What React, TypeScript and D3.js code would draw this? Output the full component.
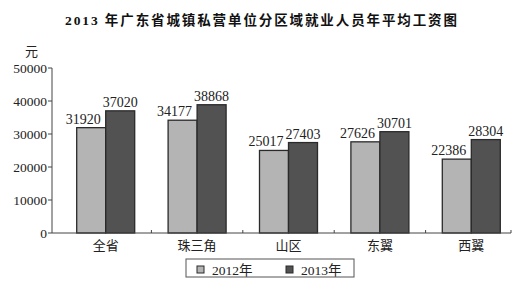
import React from "react";
import * as d3 from "d3";

const categories = ["全省", "珠三角", "山区", "东翼", "西翼"];
const values2012 = [31920, 34177, 25017, 27626, 22386];
const values2013 = [37020, 38868, 27403, 30701, 28304];
const yTicks = [0, 10000, 20000, 30000, 40000, 50000];
const seriesNames = ["2012年", "2013年"];
const title = "2013 年广东省城镇私营单位分区域就业人员年平均工资图";

const W = 524;
const H = 284;
const serif = "'Liberation Serif', 'Times New Roman', 'Noto Sans CJK SC', serif";
const cjk = "'Noto Sans CJK SC', 'Liberation Serif', serif";
const colors = ["#b4b4b4", "#525252"];

export default function App() {
  const axisX = 52;
  const axisEnd = 511;
  const y = d3.scaleLinear().domain([0, 50000]).range([233, 68]);
  const x = d3.scaleBand<string>().domain(categories).range([60, 517]).padding(0);
  const barW = 29;
  const labelDx = [-8, 0];

  return (
    <div style={{ position: "absolute", left: 0, top: 0 }}>
      <svg width={W} height={H} style={{ display: "block", background: "#fff" }}>
        <text
          x={65}
          y={25}
          textLength={392}
          lengthAdjust="spacing"
          fontFamily={serif}
          fontWeight="bold"
          fontSize={13.5}
          fill="#111"
        >
          {title}
        </text>
        <text x={25} y={56} fontFamily={cjk} fontSize={13} fill="#222">元</text>

        {/* y axis */}
        <line x1={axisX} x2={axisX} y1={y(50000)} y2={y(0)} stroke="#444" strokeWidth={1} />
        {yTicks.map((t) => (
          <g key={t}>
            <line x1={axisX - 4} x2={axisX} y1={y(t)} y2={y(t)} stroke="#444" strokeWidth={1} />
            <text
              x={47}
              y={y(t) + 4.5}
              textAnchor="end"
              fontFamily={serif}
              fontSize={13.5}
              fill="#222"
            >
              {t}
            </text>
          </g>
        ))}

        {/* bars */}
        {categories.map((c, i) => {
          const cx = (x(c) as number) + x.bandwidth() / 2;
          const vals = [values2012[i], values2013[i]];
          return (
            <g key={c}>
              {vals.map((v, k) => {
                const bx = k === 0 ? cx - barW : cx;
                return (
                  <g key={k}>
                    <rect
                      x={bx}
                      y={y(v)}
                      width={barW}
                      height={y(0) - y(v)}
                      fill={colors[k]}
                      stroke="#2a2a2a"
                      strokeWidth={1.3}
                    />
                    <text
                      x={bx + barW / 2 + labelDx[k]}
                      y={y(v) - 4}
                      textAnchor="middle"
                      fontFamily={serif}
                      fontSize={14}
                      fill="#222"
                    >
                      {v}
                    </text>
                  </g>
                );
              })}
              <text
                x={cx}
                y={250}
                textAnchor="middle"
                fontFamily={cjk}
                fontSize={13}
                fill="#222"
              >
                {c}
              </text>
            </g>
          );
        })}

        {/* x axis */}
        <line x1={axisX} x2={axisEnd} y1={y(0)} y2={y(0)} stroke="#444" strokeWidth={1} />
        {categories.map((c, i) => {
          const tx = i < categories.length - 1 ? (x(c) as number) + x.step() : axisEnd;
          return <line key={c} x1={tx} x2={tx} y1={y(0)} y2={y(0) - 3} stroke="#444" strokeWidth={1} />;
        })}

        {/* legend */}
        <rect x={186} y={259} width={168} height={18} fill="#fff" stroke="#555" strokeWidth={1} />
        {seriesNames.map((s, k) => {
          const lx = 197 + k * 89;
          return (
            <g key={s}>
              <rect x={lx} y={266} width={7} height={7} fill={colors[k]} stroke="#2a2a2a" strokeWidth={1} />
              <text x={lx + 15} y={274.5} fontFamily={serif} fontSize={13.5} fill="#222">
                {s}
              </text>
            </g>
          );
        })}
      </svg>
    </div>
  );
}
